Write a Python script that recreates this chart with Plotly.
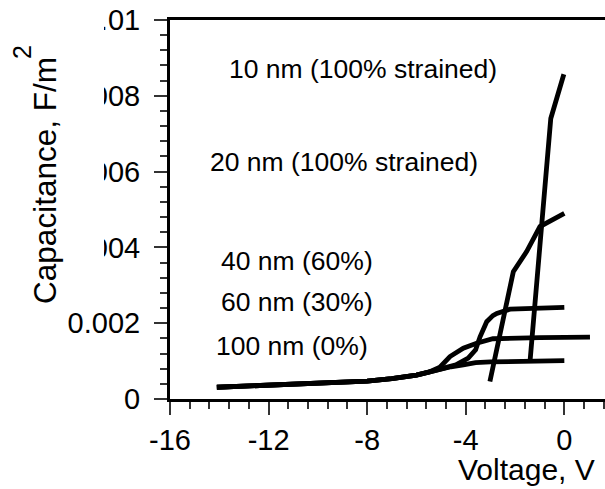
import plotly.graph_objects as go

# ---- data ----
tail_v = [-14.1, -12.0, -10.0, -8.0, -7.0, -6.0, -5.5]
tail_c = [0.00031, 0.00036, 0.00041, 0.00047, 0.00054, 0.00063, 0.00071]

v_100nm = tail_v + [-5.05, -4.6, -4.1, -3.6, -3.0, -1.5, 0.0]
c_100nm = tail_c + [0.00079, 0.00085, 0.00090, 0.00096, 0.00098, 0.00100, 0.00101]

v_60nm = tail_v + [-5.05, -4.64, -4.1, -3.56, -2.9, -1.0, 1.04]
c_60nm = tail_c + [0.00084, 0.00112, 0.00134, 0.00147, 0.00159, 0.00162, 0.00163]

v_40nm = tail_v + [-5.05, -4.4, -3.9, -3.6, -3.42, -3.15, -2.9, -2.74, -2.2, -1.0, 0.0]
c_40nm = tail_c + [0.00080, 0.00090, 0.00108, 0.00130, 0.00164, 0.00204, 0.00220, 0.00226, 0.00237, 0.00240, 0.00242]

v_20nm = [-3.02, -2.07, -1.53, -0.99, 0.0]
c_20nm = [0.00046, 0.00336, 0.00389, 0.00455, 0.00490]

v_10nm = [-1.39, -0.55, -0.02]
c_10nm = [0.00101, 0.00740, 0.00857]

labels = ["10 nm (100% strained)", "20 nm (100% strained)", "40 nm (60%)", "60 nm (30%)", "100 nm (0%)"]
label_v = [-8.17, -8.94, -10.86, -10.86, -11.07]
label_c = [0.00871, 0.00625, 0.00365, 0.00255, 0.00140]

x_ticks = [-16, -12, -8, -4, 0]
x_tick_labels = ["-16", "-12", "-8", "-4", "0"]
y_ticks = [0, 0.002, 0.004, 0.006, 0.008, 0.01]
y_tick_labels = ["0", "0.002", "0.004", "0.006", "0.008", "0.01"]

x_title = "Voltage, V"
y_title = "Capacitance, F/m"
y_title_exponent = "2"

FONT = "Liberation Sans, Arial, sans-serif"
LINE = dict(color="black", width=4.8)

fig = go.Figure()
for name, v, c in [("100 nm (0%)", v_100nm, c_100nm),
                   ("60 nm (30%)", v_60nm, c_60nm),
                   ("40 nm (60%)", v_40nm, c_40nm),
                   ("20 nm (100% strained)", v_20nm, c_20nm),
                   ("10 nm (100% strained)", v_10nm, c_10nm)]:
    fig.add_trace(go.Scatter(x=v, y=c, mode="lines", name=name, line=LINE,
                             showlegend=False, hoverinfo="skip"))

for t, v, c in zip(labels, label_v, label_c):
    fig.add_annotation(x=v, y=c, xref="x", yref="y", text=t, showarrow=False,
                       xanchor="center", yanchor="middle",
                       font=dict(family=FONT, size=26.5, color="black"))

# axis titles
fig.add_annotation(x=0.9816, y=-0.187, xref="paper", yref="paper", text=x_title,
                   showarrow=False, xanchor="right", yanchor="middle",
                   font=dict(family=FONT, size=30, color="black"))
fig.add_annotation(x=-0.2874, y=0.578, xref="paper", yref="paper",
                   text=y_title, textangle=-90,
                   showarrow=False, xanchor="center", yanchor="middle",
                   font=dict(family=FONT, size=31.5, color="black"))
fig.add_annotation(x=-0.3402, y=0.9156, xref="paper", yref="paper",
                   text=y_title_exponent, textangle=-90,
                   showarrow=False, xanchor="center", yanchor="middle",
                   font=dict(family=FONT, size=25, color="black"))

# white area hiding the left part of the upper tick labels (as in the reference)
fig.add_shape(type="rect", xref="paper", yref="paper", x0=-0.40, x1=-0.1517,
              y0=0.2876, y1=1.06, fillcolor="white", line=dict(width=0), layer="above")

fig.update_xaxes(range=[-16, 1.65], tickvals=x_ticks, ticktext=x_tick_labels,
                 showgrid=False, zeroline=False, showline=True, linecolor="black",
                 linewidth=3, mirror=True, ticks="outside", ticklen=13, tickwidth=1.5,
                 tickcolor="#333", ticklabelstandoff=0,
                 minor=dict(ticks="outside", dtick=0.8, tick0=-16, ticklen=7,
                            tickwidth=1.5, tickcolor="#333", showgrid=False),
                 tickfont=dict(family=FONT, size=29, color="black"))
fig.update_yaxes(range=[0, 0.01], tickvals=y_ticks, ticktext=y_tick_labels,
                 showgrid=False, zeroline=False, showline=True, linecolor="black",
                 linewidth=3, ticks="outside", ticklen=13, tickwidth=1.5, tickcolor="#333",
                 ticklabelstandoff=8,
                 minor=dict(ticks="outside", dtick=0.0004, tick0=0, ticklen=7,
                            tickwidth=1.5, tickcolor="#333", showgrid=False),
                 tickfont=dict(family=FONT, size=29, color="black"))

fig.update_layout(width=605, height=489, margin=dict(l=170, r=0, t=20, b=90),
                  paper_bgcolor="white", plot_bgcolor="white", showlegend=False)

fig.write_html("out.html")
